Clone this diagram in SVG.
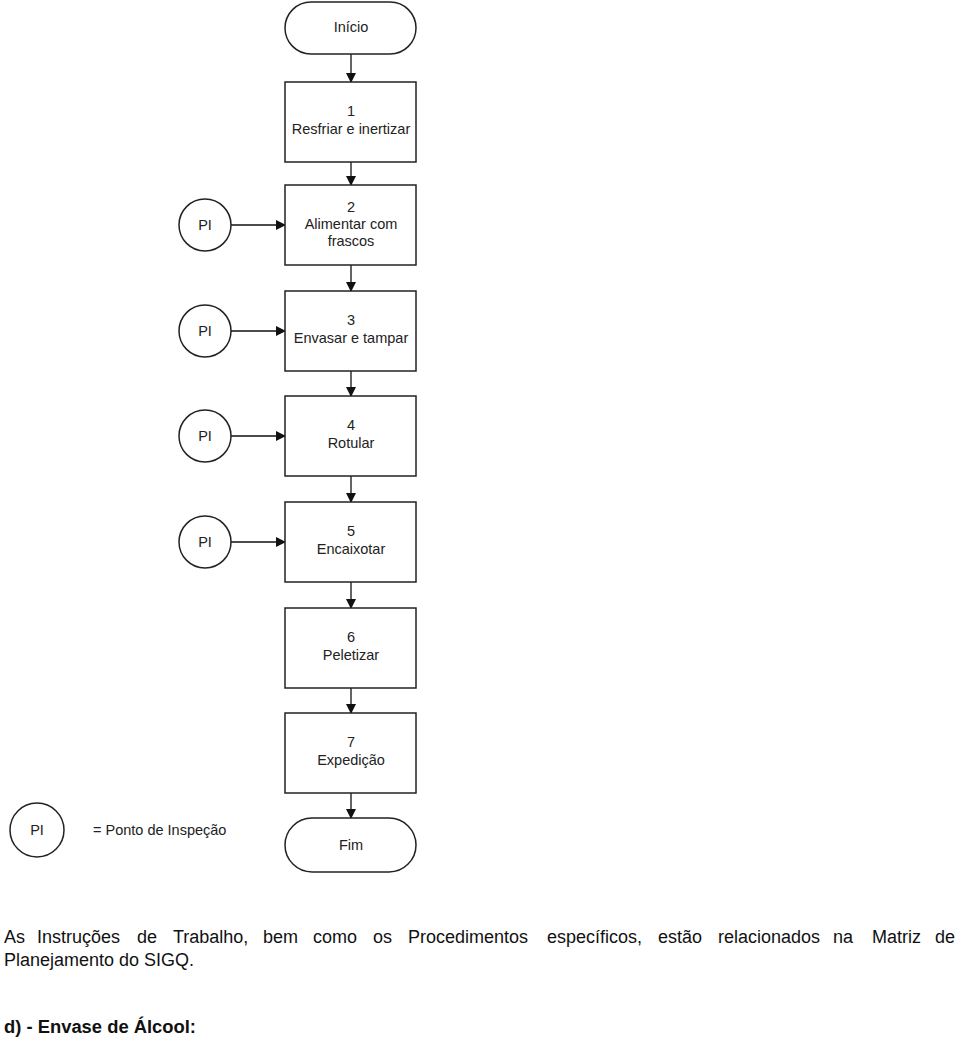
<svg xmlns="http://www.w3.org/2000/svg" width="960" height="1039" viewBox="0 0 960 1039">
<style>
.shape{fill:#fff;stroke:#222;stroke-width:1.5}
.lbl{font-family:"Liberation Sans",Arial,sans-serif;font-size:14.5px;fill:#222;text-anchor:middle}
.con{stroke:#111;stroke-width:1.3;fill:none;marker-end:url(#ah)}
.body{font-family:"Liberation Sans",Arial,sans-serif;font-size:18px;fill:#111}
</style>
<defs>
<marker id="ah" markerWidth="10" markerHeight="10" refX="9" refY="5" orient="auto" markerUnits="userSpaceOnUse">
<path d="M0,0 L10,5 L0,10 Z" fill="#111"/>
</marker>
</defs>
<rect width="960" height="1039" fill="#fff"/>
<g id="connectors">
<line class="con" x1="351" y1="54" x2="351" y2="82"/>
<line class="con" x1="351" y1="162" x2="351" y2="185"/>
<line class="con" x1="351" y1="265" x2="351" y2="291"/>
<line class="con" x1="351" y1="371" x2="351" y2="396"/>
<line class="con" x1="351" y1="476" x2="351" y2="502"/>
<line class="con" x1="351" y1="582" x2="351" y2="608"/>
<line class="con" x1="351" y1="688" x2="351" y2="713"/>
<line class="con" x1="351" y1="793" x2="351" y2="818"/>
<line class="con" x1="231" y1="225" x2="285" y2="225"/>
<line class="con" x1="231" y1="331" x2="285" y2="331"/>
<line class="con" x1="231" y1="436" x2="285" y2="436"/>
<line class="con" x1="231" y1="542" x2="285" y2="542"/>
</g>
<g id="inicio">
<rect class="shape" x="285" y="2" width="131" height="52" rx="26" ry="26"/>
<text class="lbl" x="351" y="32">Início</text>
</g>
<g id="n1">
<rect class="shape" x="285" y="82" width="131" height="80"/>
<text class="lbl" x="351" y="116">1</text>
<text class="lbl" x="351" y="134">Resfriar e inertizar</text>
</g>
<g id="n2">
<rect class="shape" x="285" y="185" width="131" height="80"/>
<text class="lbl" x="351" y="212">2</text>
<text class="lbl" x="351" y="229">Alimentar com</text>
<text class="lbl" x="351" y="246">frascos</text>
</g>
<g id="n3">
<rect class="shape" x="285" y="291" width="131" height="80"/>
<text class="lbl" x="351" y="325">3</text>
<text class="lbl" x="351" y="343">Envasar e tampar</text>
</g>
<g id="n4">
<rect class="shape" x="285" y="396" width="131" height="80"/>
<text class="lbl" x="351" y="430">4</text>
<text class="lbl" x="351" y="448">Rotular</text>
</g>
<g id="n5">
<rect class="shape" x="285" y="502" width="131" height="80"/>
<text class="lbl" x="351" y="536">5</text>
<text class="lbl" x="351" y="554">Encaixotar</text>
</g>
<g id="n6">
<rect class="shape" x="285" y="608" width="131" height="80"/>
<text class="lbl" x="351" y="642">6</text>
<text class="lbl" x="351" y="660">Peletizar</text>
</g>
<g id="n7">
<rect class="shape" x="285" y="713" width="131" height="80"/>
<text class="lbl" x="351" y="747">7</text>
<text class="lbl" x="351" y="765">Expedição</text>
</g>
<g id="fim">
<rect class="shape" x="285" y="818" width="131" height="54" rx="27" ry="27"/>
<text class="lbl" x="351" y="850">Fim</text>
</g>
<g id="pi2">
<circle class="shape" cx="205" cy="225" r="26"/>
<text class="lbl" x="205" y="230">PI</text>
</g>
<g id="pi3">
<circle class="shape" cx="205" cy="331" r="26"/>
<text class="lbl" x="205" y="336">PI</text>
</g>
<g id="pi4">
<circle class="shape" cx="205" cy="436" r="26"/>
<text class="lbl" x="205" y="441">PI</text>
</g>
<g id="pi5">
<circle class="shape" cx="205" cy="542" r="26"/>
<text class="lbl" x="205" y="547">PI</text>
</g>
<g id="legend">
<circle class="shape" cx="37" cy="830" r="27"/>
<text class="lbl" x="37" y="835">PI</text>
<text class="lbl" x="93" y="835" style="text-anchor:start">= Ponto de Inspeção</text>
</g>
<g id="bodytext">
<text class="body" y="943"><tspan x="4">As</tspan><tspan x="37">Instruções</tspan><tspan x="137">de</tspan><tspan x="173">Trabalho,</tspan><tspan x="263">bem</tspan><tspan x="313">como</tspan><tspan x="373">os</tspan><tspan x="408">Procedimentos</tspan><tspan x="547">específicos,</tspan><tspan x="658">estão</tspan><tspan x="718">relacionados</tspan><tspan x="833">na</tspan><tspan x="872">Matriz</tspan><tspan x="935">de</tspan></text>
<text class="body" x="4" y="966" textLength="190" lengthAdjust="spacingAndGlyphs">Planejamento do SIGQ.</text>
<text class="body" x="4" y="1033" font-weight="bold" textLength="192" lengthAdjust="spacingAndGlyphs">d) - Envase de Álcool:</text>
</g>
</svg>
